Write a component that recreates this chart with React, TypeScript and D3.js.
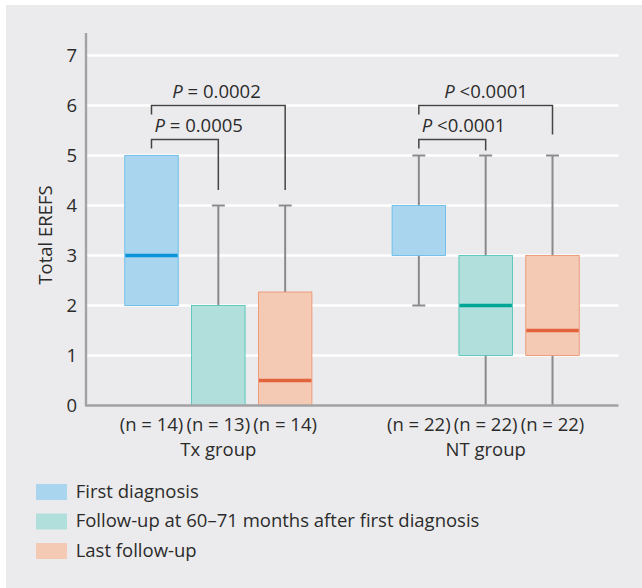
import React from 'react'
import * as d3 from 'd3'

// data
const groups = ['Tx group', 'NT group']
const series = ['First diagnosis', 'Follow-up at 60–71 months after first diagnosis', 'Last follow-up']
const nLabels = [['14', '13', '14'], ['22', '22', '22']]
// [min, q1, median, q3, max] per group, per series
const txBoxes = [[2, 2, 3, 5, 5], [0, 0, 0, 2, 4], [0, 0, 0.5, 2.27, 4]]
const ntBoxes = [[2, 3, 3, 4, 5], [0, 1, 2, 3, 5], [0, 1, 1.5, 3, 5]]
const yTicks = [0, 1, 2, 3, 4, 5, 6, 7]
// bracket: group, from series, to series, level, left leg end, right leg end, label
const brackets: [number, number, number, number, number, number, string][] = [
  [0, 0, 1, 5.32, 5.14, 4.31, ' = 0.0005'],
  [0, 0, 2, 6, 5.82, 4.31, ' = 0.0002'],
  [1, 0, 1, 5.32, 5.14, 5.1, ' <0.0001'],
  [1, 0, 2, 6, 5.82, 5.42, ' <0.0001'],
]

const fills = ['#a9d5ef', '#b1dfdb', '#f4cab4']
const strokes = ['#5db9e8', '#45c1b4', '#eb8d68']
const medians = ['#0b95d8', '#00a598', '#e2643c']
const font = '"Open Sans", sans-serif'
const textCol = '#2b2b2b'
const fs = 18.5

export default function App() {
  const W = 642, H = 588
  const y = d3.scaleLinear().domain([0, 7]).range([405.5, 55.5])
  const gx = d3.scaleBand().domain(groups).range([86, 618]).paddingInner(0.25).paddingOuter(0.12)
  const sx = d3.scaleBand().domain(series).range([0, gx.bandwidth()]).paddingInner(0.2).paddingOuter(0.1)
  const bw = sx.bandwidth()
  const data = [txBoxes, ntBoxes]
  const cx = (g: number, s: number) => (gx(groups[g]) as number) + (sx(series[s]) as number) + bw / 2

  return (
    <svg width={W} height={H} style={{ position: 'absolute', left: 0, top: 0 }} fontFamily={font}>
      <rect x={6} y={5} width={W - 6} height={H - 5} fill="#ebebed" />
      {yTicks.filter(t => t > 0).map(t => (
        <line key={'g' + t} x1={86} x2={618.5} y1={y(t)} y2={y(t)} stroke="#fff" strokeWidth={2.4} />
      ))}
      {data.map((boxes, g) => boxes.map((b, s) => {
        const [mn, q1, md, q3, mx] = b
        const c = cx(g, s)
        const x0 = c - bw / 2
        return (
          <g key={g + '-' + s}>
            <line x1={c} x2={c} y1={y(mx)} y2={y(q3)} stroke="#8a8a8c" strokeWidth={2} />
            <line x1={c} x2={c} y1={y(q1)} y2={y(mn)} stroke="#8a8a8c" strokeWidth={2} />
            {mx > q3 && <line x1={c - 6.5} x2={c + 6.5} y1={y(mx)} y2={y(mx)} stroke="#8a8a8c" strokeWidth={2} />}
            {mn < q1 && mn > 0 && <line x1={c - 6.5} x2={c + 6.5} y1={y(mn)} y2={y(mn)} stroke="#8a8a8c" strokeWidth={2} />}
            <rect x={x0} y={y(q3)} width={bw} height={y(q1) - y(q3)} fill={fills[s]} stroke={strokes[s]} strokeWidth={0.8} />
            {md > q1 && md < q3 && (
              <line x1={x0 + 0.5} x2={x0 + bw - 0.5} y1={y(md)} y2={y(md)} stroke={medians[s]} strokeWidth={3.5} />
            )}
          </g>
        )
      }))}
      <line x1={86} x2={86} y1={33} y2={y(0)} stroke="#a2a2a4" strokeWidth={2.4} />
      <line x1={85} x2={618.5} y1={y(0)} y2={y(0)} stroke="#a2a2a4" strokeWidth={2.4} />
      {yTicks.map(t => (
        <text key={'t' + t} x={77} y={y(t) + 6.5} textAnchor="end" fontSize={fs} fill={textCol}>{t}</text>
      ))}
      <text transform={`translate(52,235) rotate(-90)`} textAnchor="middle" fontSize={fs} fill={textCol}>Total EREFS</text>
      {groups.map((gname, g) => (
        <g key={gname}>
          {series.map((sname, s) => (
            <text key={sname} x={cx(g, s)} y={430.5} textAnchor="middle" fontSize={fs} fill={textCol}>
              (n = {nLabels[g][s]})
            </text>
          ))}
          <text x={cx(g, 1)} y={456} textAnchor="middle" fontSize={fs} fill={textCol}>{gname}</text>
        </g>
      ))}
      {brackets.map(([g, a, b, lvl, le, re, label], i) => {
        const xa = cx(g, a), xb = cx(g, b)
        const w = 9.2 * (label.length + 1)
        const tx = Math.max(xa + 3, (xa + xb) / 2 - w / 2)
        return (
          <g key={'b' + i}>
            <path d={`M${xa},${y(le)}V${y(lvl)}H${xb}V${y(re)}`} fill="none" stroke="#444" strokeWidth={1.5} />
            <text x={tx} y={y(lvl) - 8} fontSize={fs} fill={textCol}>
              <tspan fontStyle="italic">P</tspan>{label}
            </text>
          </g>
        )
      })}
      {series.map((sname, s) => (
        <g key={'l' + s} transform={`translate(36,${484 + s * 29.5})`}>
          <rect width={31} height={16} fill={fills[s]} />
          <text x={39.7} y={13.8} fontSize={fs} fill={textCol}>{sname}</text>
        </g>
      ))}
    </svg>
  )
}
